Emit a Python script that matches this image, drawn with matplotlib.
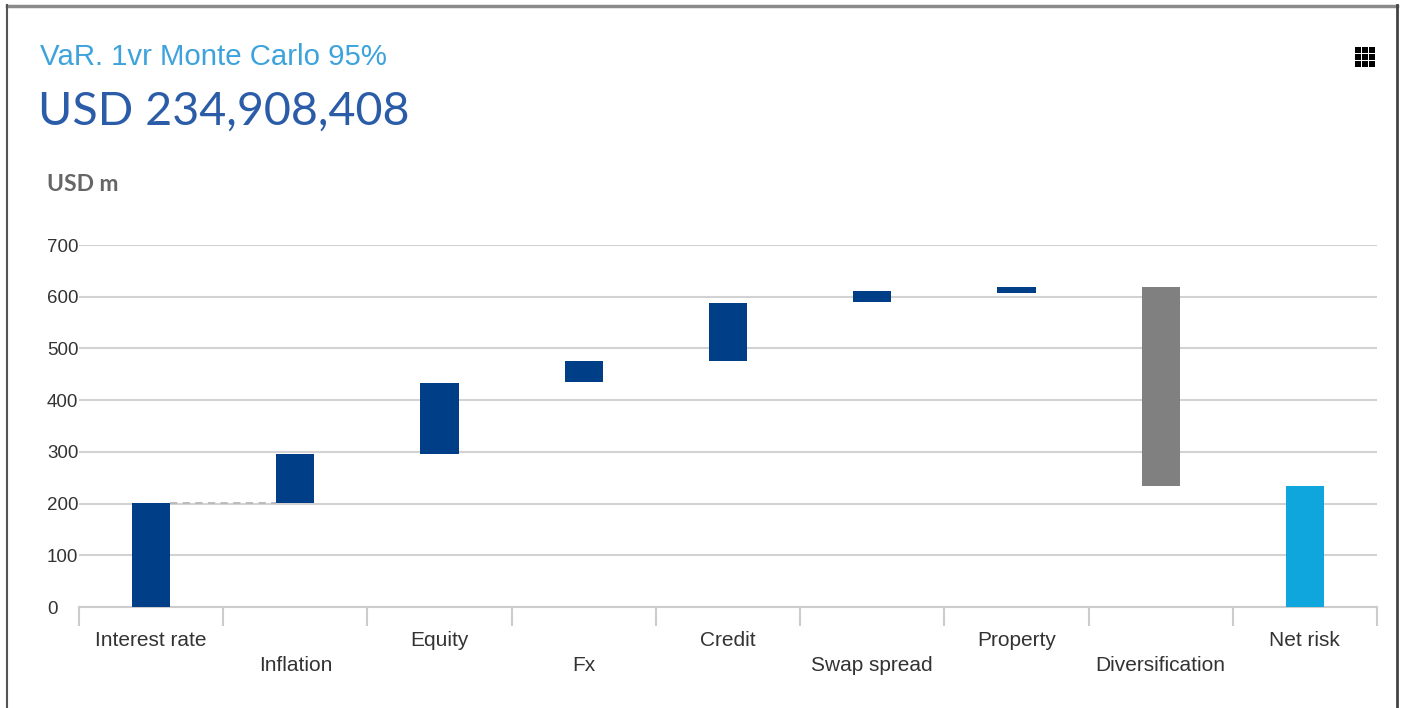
# VaR 위험요인별 기여도 waterfall 차트
import matplotlib.pyplot as plt
from matplotlib.patches import Rectangle
from matplotlib.lines import Line2D

# 데이터 (USD m)
categories = ['Interest rate', 'Inflation', 'Equity', 'Fx', 'Credit',
              'Swap spread', 'Property', 'Diversification', 'Net risk']
bar_low = [0, 201, 296, 436, 476, 589, 607, 234, 0]
bar_high = [201, 296, 434, 476, 588, 612, 619, 619, 234.9]
bar_colors = ['#003f87'] * 7 + ['#808080', '#0fa6de']
y_ticks = [0, 100, 200, 300, 400, 500, 600, 700]

W, H = 1403, 708
fig = plt.figure(figsize=(W / 100, H / 100), dpi=100)

def px(x, y):
    # 픽셀 좌표 -> figure 비율
    return x / W, 1 - y / H

# 축 위치
x0, y0 = px(79, 607)
x1, y1 = px(1377, 245)
ax = fig.add_axes([x0, y0, x1 - x0, y1 - y0])

n = len(categories)
width = 0.265
heights = [h - l for l, h in zip(bar_low, bar_high)]
ax.bar(range(n), heights, bottom=bar_low, width=width, color=bar_colors, zorder=3)

# 첫 번째 연결 점선
ax.plot([0 + width / 2, 1 - width / 2], [bar_high[0], bar_high[0]],
        ls=(0, (4, 3)), color='#b8b8b8', lw=1.3, zorder=2)

ax.set_xlim(-0.5, n - 0.5)
ax.set_ylim(0, 700)
ax.set_yticks(y_ticks)
ax.grid(axis='y', color='#d2d2d2', lw=1.5, zorder=0)
for s in ['top', 'right', 'left']:
    ax.spines[s].set_visible(False)
ax.spines['bottom'].set_color('#cccccc')
ax.spines['bottom'].set_linewidth(1.5)

# x축 라벨 (두 줄 번갈아 배치)
labels = [c if i % 2 == 0 else '\n' + c for i, c in enumerate(categories)]
ax.set_xticks(range(n))
ax.set_xticklabels(labels, fontsize=15, family='Liberation Sans', color='#333333',
                   linespacing=1.4, va='top')
ax.set_xticks([i - 0.5 for i in range(n + 1)], minor=True)
ax.tick_params(axis='x', which='major', length=0, pad=17)
ax.tick_params(axis='x', which='minor', length=14, width=1.5, color='#cccccc')

ax.tick_params(axis='y', length=0, pad=23, labelsize=13.5, labelcolor='#333333')
for lab in ax.get_yticklabels():
    lab.set_ha('left')
    lab.set_family('Liberation Sans')

# 제목
tx, ty = px(40, 65)
fig.text(tx, ty, 'VaR. 1vr Monte Carlo 95%', fontsize=21.2, family='Liberation Sans',
         color='#3ea3dc', va='baseline')
tx, ty = px(38, 125)
fig.text(tx, ty, 'USD 234,908,408', fontsize=33.6, family='Lato', color='#2b5ca8',
         va='baseline')
tx, ty = px(47, 191)
fig.text(tx, ty, 'USD m', fontsize=16.5, family='Lato', fontweight='bold',
         color='#666666', va='baseline')

# 메뉴 아이콘 (3x3)
for i in range(3):
    for j in range(3):
        rx, ry = px(1355 + i * 7, 47 + j * 7 + 6)
        fig.add_artist(Rectangle((rx, ry), 6 / W, 6 / H, transform=fig.transFigure,
                                 facecolor='black', lw=0))

# 테두리
fig.add_artist(Line2D([7 / W, 1397 / W], [1 - 5.5 / H] * 2, transform=fig.transFigure,
                      color='#8a8a8a', lw=2.5))
fig.add_artist(Line2D([7 / W] * 2, [0, 1 - 5 / H], transform=fig.transFigure,
                      color='#555555', lw=1.5))
fig.add_artist(Line2D([1397 / W] * 2, [0, 1 - 5 / H], transform=fig.transFigure,
                      color='#444444', lw=2))

fig.savefig('out.png', dpi=100)
